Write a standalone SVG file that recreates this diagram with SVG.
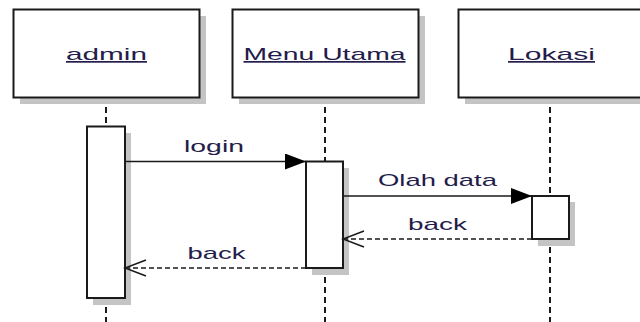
<svg xmlns="http://www.w3.org/2000/svg" width="640" height="322" viewBox="0 0 640 322">
  <style>
    .box { fill: #ffffff; stroke: #1a1a1a; stroke-width: 2; }
    .shadow { fill: #c4c4c4; }
    .life { stroke: #1a1a1a; stroke-width: 2; stroke-dasharray: 6 4; fill: none; }
    .name { font-family: "Liberation Sans", Arial, sans-serif; font-size: 17px; fill: #241c4a; text-decoration: underline; }
    .msg { stroke: #1a1a1a; stroke-width: 1.5; fill: none; }
    .ret { stroke: #1a1a1a; stroke-width: 1.5; fill: none; stroke-dasharray: 5 3; }
    .lbl { font-family: "Liberation Sans", Arial, sans-serif; font-size: 17px; fill: #241c4a; }
  </style>
  <defs>
    <marker id="filled" markerUnits="userSpaceOnUse" markerWidth="22" markerHeight="16" refX="21" refY="8" orient="auto">
      <path d="M0,0 L21,8 L0,16 Z" fill="#000"/>
    </marker>
    <marker id="open" markerUnits="userSpaceOnUse" markerWidth="24" markerHeight="18" refX="22" refY="9" orient="auto">
      <path d="M1,1 L22,9 L1,17" fill="none" stroke="#1a1a1a" stroke-width="1.5"/>
    </marker>
  </defs>
  <rect width="640" height="322" fill="#ffffff"/>

  <!-- lifelines -->
  <g id="lifelines">
    <line class="life" x1="106" y1="97" x2="106" y2="322"/>
    <line class="life" x1="325" y1="97" x2="325" y2="322"/>
    <line class="life" x1="550" y1="97" x2="550" y2="322"/>
  </g>

  <g id="admin">
    <rect class="shadow" x="20" y="16" width="186" height="88"/>
    <rect class="box" x="13.5" y="9.5" width="186" height="88"/>
    <text class="name" x="106.5" y="60" text-anchor="middle" textLength="81" lengthAdjust="spacingAndGlyphs">admin</text>
  </g>
  <g id="menu-utama">
    <rect class="shadow" x="239" y="16" width="186" height="88"/>
    <rect class="box" x="232.5" y="9.5" width="186" height="88"/>
    <text class="name" x="324.5" y="60" text-anchor="middle" textLength="162" lengthAdjust="spacingAndGlyphs">Menu Utama</text>
  </g>
  <g id="lokasi">
    <rect class="shadow" x="465" y="16" width="186" height="88"/>
    <rect class="box" x="458.5" y="9.5" width="186" height="88"/>
    <text class="name" x="551.5" y="60" text-anchor="middle" textLength="87" lengthAdjust="spacingAndGlyphs">Lokasi</text>
  </g>

  <!-- activation bars -->
  <g id="act-admin">
    <rect class="shadow" x="93" y="133" width="38" height="172"/>
    <rect class="box" x="87" y="126.5" width="38" height="171.5"/>
  </g>
  <g id="act-menu">
    <rect class="shadow" x="312" y="168" width="37" height="107"/>
    <rect class="box" x="306" y="161.5" width="37" height="106.5"/>
  </g>
  <g id="act-lokasi">
    <rect class="shadow" x="538" y="202" width="37" height="44"/>
    <rect class="box" x="532" y="196" width="37" height="43"/>
  </g>

  <g id="connectors">
    <line class="msg" x1="125" y1="161.5" x2="306" y2="161.5" marker-end="url(#filled)"/>
    <text class="lbl" x="214" y="152" text-anchor="middle" textLength="60" lengthAdjust="spacingAndGlyphs">login</text>

    <line class="msg" x1="343" y1="196" x2="532" y2="196" marker-end="url(#filled)"/>
    <text class="lbl" x="437.5" y="186" text-anchor="middle" textLength="119" lengthAdjust="spacingAndGlyphs">Olah data</text>

    <line class="ret" x1="532" y1="239" x2="343" y2="239" marker-end="url(#open)"/>
    <text class="lbl" x="437.5" y="230" text-anchor="middle" textLength="59" lengthAdjust="spacingAndGlyphs">back</text>

    <line class="ret" x1="306" y1="268" x2="125" y2="268" marker-end="url(#open)"/>
    <text class="lbl" x="216.5" y="259" text-anchor="middle" textLength="58" lengthAdjust="spacingAndGlyphs">back</text>
  </g>
</svg>
